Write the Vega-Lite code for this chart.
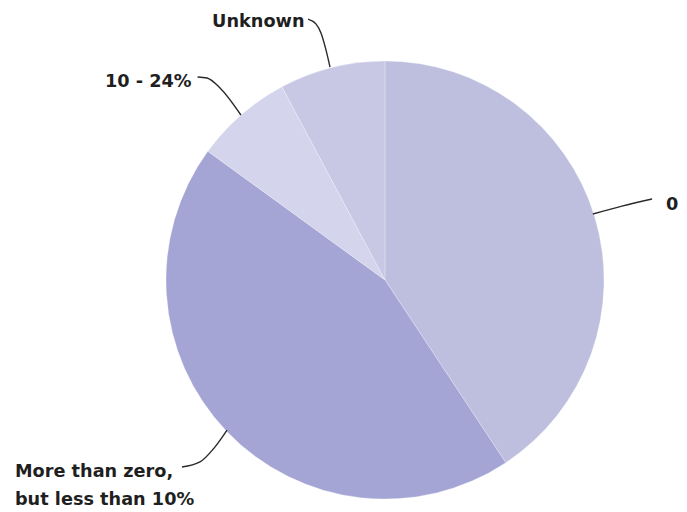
{
  "$schema": "https://vega.github.io/schema/vega-lite/v6.json",
  "width": 440,
  "height": 440,
  "autosize": "none",
  "padding": {"left": 165, "top": 60, "right": 82, "bottom": 12},
  "background": "white",
  "config": {"view": {"stroke": null}},
  "datasets": {
    "slices": [
      {"group": "0", "share": 40.7, "rank": 1},
      {"group": "More than zero, but less than 10%", "share": 44.3, "rank": 2},
      {"group": "10 - 24%", "share": 7.2, "rank": 3},
      {"group": "Unknown", "share": 7.8, "rank": 4}
    ],
    "leaders": [
      {"group": "0", "step": 1, "x": 0.945, "y": 0.300},
      {"group": "0", "step": 2, "x": 1.077, "y": 0.336},
      {"group": "0", "step": 3, "x": 1.214, "y": 0.368},
      {"group": "Unknown", "step": 1, "x": -0.350, "y": 1.186},
      {"group": "Unknown", "step": 2, "x": -0.314, "y": 1.164},
      {"group": "Unknown", "step": 3, "x": -0.291, "y": 1.123},
      {"group": "Unknown", "step": 4, "x": -0.268, "y": 1.045},
      {"group": "Unknown", "step": 5, "x": -0.250, "y": 0.968},
      {"group": "10 - 24%", "step": 1, "x": -0.852, "y": 0.923},
      {"group": "10 - 24%", "step": 2, "x": -0.809, "y": 0.918},
      {"group": "10 - 24%", "step": 3, "x": -0.750, "y": 0.873},
      {"group": "10 - 24%", "step": 4, "x": -0.655, "y": 0.750},
      {"group": "More", "step": 1, "x": -0.923, "y": -0.850},
      {"group": "More", "step": 2, "x": -0.841, "y": -0.827},
      {"group": "More", "step": 3, "x": -0.777, "y": -0.764},
      {"group": "More", "step": 4, "x": -0.718, "y": -0.682}
    ],
    "labels": [
      {"text": "0", "x": 1.277, "y": 0.318},
      {"text": "Unknown", "x": -0.786, "y": 1.150},
      {"text": "10 - 24%", "x": -1.273, "y": 0.877},
      {"text": "More than zero,\nbut less than 10%", "x": -1.682, "y": -0.895}
    ]
  },
  "layer": [
    {
      "data": {"name": "slices"},
      "mark": {"type": "arc", "outerRadius": 219, "stroke": "white", "strokeWidth": 1, "strokeOpacity": 0.25},
      "encoding": {
        "theta": {"field": "share", "type": "quantitative", "stack": true},
        "order": {"field": "rank", "type": "quantitative"},
        "color": {
          "field": "group",
          "type": "nominal",
          "scale": {
            "domain": ["0", "More than zero, but less than 10%", "10 - 24%", "Unknown"],
            "range": ["#BEBFDF", "#A4A5D4", "#D4D4EC", "#C8C8E5"]
          },
          "legend": null
        }
      }
    },
    {
      "data": {"name": "leaders"},
      "mark": {"type": "line", "interpolate": "monotone", "color": "#2a2a2a", "strokeWidth": 1.4},
      "encoding": {
        "x": {"field": "x", "type": "quantitative", "scale": {"domain": [-1, 1], "zero": false, "nice": false}, "axis": null},
        "y": {"field": "y", "type": "quantitative", "scale": {"domain": [-1, 1], "zero": false, "nice": false}, "axis": null},
        "detail": {"field": "group", "type": "nominal"},
        "order": {"field": "step", "type": "quantitative"}
      }
    },
    {
      "data": {"name": "labels"},
      "mark": {"type": "text", "align": "left", "baseline": "alphabetic", "font": "DejaVu Sans", "fontWeight": "bold", "fontSize": 17.7, "lineHeight": 28, "lineBreak": "\n", "color": "#1f1f1f"},
      "encoding": {
        "x": {"field": "x", "type": "quantitative", "scale": {"domain": [-1, 1], "zero": false, "nice": false}, "axis": null},
        "y": {"field": "y", "type": "quantitative", "scale": {"domain": [-1, 1], "zero": false, "nice": false}, "axis": null},
        "text": {"field": "text", "type": "nominal"}
      }
    }
  ]
}
